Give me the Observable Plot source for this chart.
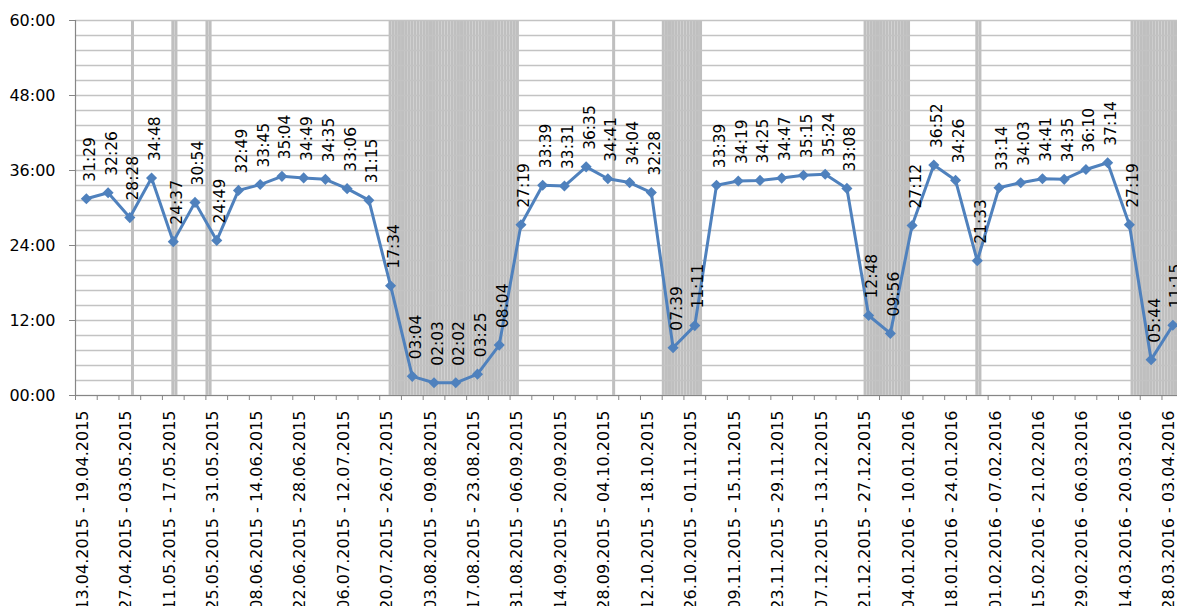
<!DOCTYPE html>
<html><head><meta charset="utf-8">
<script src="https://cdn.jsdelivr.net/npm/d3@7"></script>
<script src="https://cdn.jsdelivr.net/npm/@observablehq/plot@0.6"></script>
<style>
html,body{margin:0;padding:0;background:#fff;overflow:hidden;}
#chart{width:1177px;height:606px;overflow:hidden;}
</style></head><body><div id="chart"></div>
<script>
const weekLabels = [
"13.04.2015 - 19.04.2015","20.04.2015 - 26.04.2015","27.04.2015 - 03.05.2015","04.05.2015 - 10.05.2015",
"11.05.2015 - 17.05.2015","18.05.2015 - 24.05.2015","25.05.2015 - 31.05.2015","01.06.2015 - 07.06.2015",
"08.06.2015 - 14.06.2015","15.06.2015 - 21.06.2015","22.06.2015 - 28.06.2015","29.06.2015 - 05.07.2015",
"06.07.2015 - 12.07.2015","13.07.2015 - 19.07.2015","20.07.2015 - 26.07.2015","27.07.2015 - 02.08.2015",
"03.08.2015 - 09.08.2015","10.08.2015 - 16.08.2015","17.08.2015 - 23.08.2015","24.08.2015 - 30.08.2015",
"31.08.2015 - 06.09.2015","07.09.2015 - 13.09.2015","14.09.2015 - 20.09.2015","21.09.2015 - 27.09.2015",
"28.09.2015 - 04.10.2015","05.10.2015 - 11.10.2015","12.10.2015 - 18.10.2015","19.10.2015 - 25.10.2015",
"26.10.2015 - 01.11.2015","02.11.2015 - 08.11.2015","09.11.2015 - 15.11.2015","16.11.2015 - 22.11.2015",
"23.11.2015 - 29.11.2015","30.11.2015 - 06.12.2015","07.12.2015 - 13.12.2015","14.12.2015 - 20.12.2015",
"21.12.2015 - 27.12.2015","28.12.2015 - 03.01.2016","04.01.2016 - 10.01.2016","11.01.2016 - 17.01.2016",
"18.01.2016 - 24.01.2016","25.01.2016 - 31.01.2016","01.02.2016 - 07.02.2016","08.02.2016 - 14.02.2016",
"15.02.2016 - 21.02.2016","22.02.2016 - 28.02.2016","29.02.2016 - 06.03.2016","07.03.2016 - 13.03.2016",
"14.03.2016 - 20.03.2016","21.03.2016 - 27.03.2016","28.03.2016 - 03.04.2016"
];
const durations = [
"31:29","32:26","28:28","34:48","24:37","30:54","24:49","32:49","33:45","35:04",
"34:49","34:35","33:06","31:15","17:34","03:04","02:03","02:02","03:25","08:04",
"27:19","33:39","33:31","36:35","34:41","34:04","32:28","07:39","11:11","33:39",
"34:19","34:25","34:47","35:15","35:24","33:08","12:48","09:56","27:12","36:52",
"34:26","21:33","33:14","34:03","34:41","34:35","36:10","37:14","27:19","05:44","11:15"
];
const holidayPeriods = [
["01.05.2015","01.05.2015"],["14.05.2015","15.05.2015"],["25.05.2015","26.05.2015"],
["23.07.2015","02.09.2015"],["03.10.2015","03.10.2015"],["19.10.2015","31.10.2015"],
["23.12.2015","06.01.2016"],["28.01.2016","29.01.2016"],["18.03.2016","02.04.2016"]
];
const yTicks = [0, 12, 24, 36, 48, 60];
const yTickLabels = ["00:00","12:00","24:00","36:00","48:00","60:00"];
const gridStep = 2.4;
const viewStart = "13.04.2015", viewEnd = "02.04.2016";

const parseDE = s => { const [d,m,y] = s.split(".").map(Number); return new Date(Date.UTC(y, m-1, d)); };
const DAY = 864e5;
const toHours = s => { const [h,m] = s.split(":").map(Number); return h + m/60; };

const weeks = weekLabels.map((label, i) => {
  const start = parseDE(label.split(" - ")[0]);
  return {label, i, start, mid: new Date(+start + 3.5*DAY), value: toHours(durations[i]), text: durations[i]};
});
const holidayDays = [];
for (const [a,b] of holidayPeriods) {
  for (let t = +parseDE(a); t <= +parseDE(b); t += DAY) holidayDays.push({start: new Date(t), end: new Date(t + DAY)});
}
const gridValues = d3.range(0, 60 + 1e-9, gridStep);
const x0 = parseDE(viewStart), x1 = parseDE(viewEnd);
const gray = "#868686";
const blue = "#4f81bd";

const chart = Plot.plot({
  width: 1177, height: 606,
  marginLeft: 75, marginRight: 0, marginTop: 20, marginBottom: 211,
  style: {fontFamily: "DejaVu Sans", background: "white", color: "black"},
  x: {type: "utc", domain: [x0, x1]},
  y: {domain: [0, 60]},
  marks: [
    Plot.rect(holidayDays, {x1: "start", x2: "end", y1: () => 0, y2: () => 60, fill: "#bfbfbf", insetLeft: 0.1}),
    Plot.ruleY(gridValues, {stroke: "#c3c3c3", strokeWidth: 1.5}),
    Plot.ruleY([0], {stroke: gray, strokeWidth: 1.2}),
    Plot.ruleX([x0], {stroke: gray, strokeWidth: 1.2}),
    Plot.axisY({ticks: yTicks, tickFormat: d => yTickLabels[yTicks.indexOf(d)], tickSize: 6, tickPadding: 14,
      fontSize: 16, stroke: gray, fill: "black", label: null}),
    Plot.axisX({ticks: weeks.map(w => w.start), tickFormat: () => "", tickSize: 5, stroke: gray, label: null}),
    Plot.text(weeks.filter(w => w.i % 2 === 0), {x: "mid", text: "label", frameAnchor: "bottom", rotate: -90,
      textAnchor: "end", dy: 15, dx: 1.5, fontSize: 16, fill: "black"}),
    Plot.line(weeks, {x: "mid", y: "value", stroke: blue, strokeWidth: 3}),
    Plot.dot(weeks, {x: "mid", y: "value", symbol: "diamond2", r: 5, fill: blue, stroke: "none"}),
    Plot.text(weeks, {x: "mid", y: "value", text: "text", rotate: -90, textAnchor: "start", dy: -17, dx: 3.5,
      fontSize: 15.5, fill: "black"})
  ]
});
document.getElementById("chart").appendChild(chart);
</script></body></html>
